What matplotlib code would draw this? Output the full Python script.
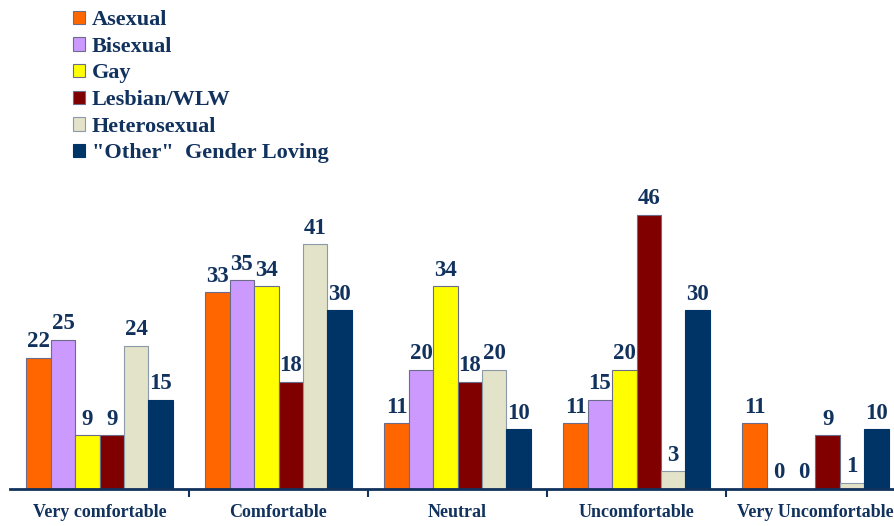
import matplotlib
matplotlib.use("Agg")
import matplotlib.pyplot as plt
import numpy as np

categories = ["Very comfortable", "Comfortable", "Neutral", "Uncomfortable", "Very Uncomfortable"]
series_names = ["Asexual", "Bisexual", "Gay", "Lesbian/WLW", "Heterosexual", "\"Other\"  Gender Loving"]
asexual = [22, 33, 11, 11, 11]
bisexual = [25, 35, 20, 15, 0]
gay = [9, 34, 34, 20, 0]
lesbian = [9, 18, 18, 46, 9]
hetero = [24, 41, 20, 3, 1]
other = [15, 30, 10, 30, 10]
series_values = [asexual, bisexual, gay, lesbian, hetero, other]
colors = ["#FF6600", "#CC99FF", "#FFFF00", "#800000", "#E3E3C9", "#003366"]
edges = ["#6b6b8a", "#6b6b8a", "#6b6b8a", "#6b6b8a", "#8a9aa8", "#003366"]

txt = "#12325E"
font = "Liberation Serif"

fig = plt.figure(figsize=(8.94, 5.26), dpi=100)
ax = fig.add_axes([10/894, 37/526, 895/894, 489/526])

x = np.arange(len(categories))
w = 0.136
bars = []
for i, (vals, c, ec, name) in enumerate(zip(series_values, colors, edges, series_names)):
    pos = x + (i - 2.5) * w
    b = ax.bar(pos, vals, width=w, color=c, edgecolor=ec, linewidth=0.8, label=name, zorder=2)
    bars.append(b)
    for px, v in zip(pos, vals):
        ax.annotate(str(v), (px, v), xytext=(0, 4), textcoords="offset points",
                    ha="center", va="bottom", fontsize=16.5, fontweight="bold",
                    color=txt, family=font)

ax.set_xlim(-0.5, 4.5)
ax.set_ylim(0, 82)
for s in ["left", "right", "top"]:
    ax.spines[s].set_visible(False)
ax.spines["bottom"].set_color(txt)
ax.spines["bottom"].set_linewidth(2)
ax.set_yticks([])
ax.set_xticks(x)
ax.set_xticklabels(categories, fontsize=13, fontweight="bold", color=txt, family=font)
ax.tick_params(axis="x", which="major", length=0, pad=11)
ax.set_xticks(x[:-1] + 0.5, minor=True)
ax.tick_params(axis="x", which="minor", length=6, width=1.5, color=txt, direction="out")

leg = fig.legend(handles=bars, labels=series_names, loc="upper left",
                 bbox_to_anchor=(62/894, 1 + 1/526), bbox_transform=fig.transFigure,
                 frameon=False, prop={"family": font, "weight": "bold", "size": 16},
                 handlelength=0.55, handleheight=0.55, handletextpad=0.3, labelspacing=0.3,
                 borderpad=0)
for t in leg.get_texts():
    t.set_color(txt)

fig.savefig("out.png", dpi=100)
